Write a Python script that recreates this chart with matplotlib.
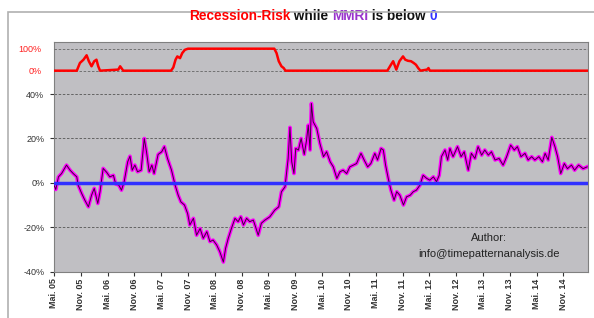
import numpy as np
import matplotlib.pyplot as plt
from matplotlib.patches import Rectangle

plt.rcParams['font.family'] = ['Liberation Sans', 'DejaVu Sans']

# MMRI: months since May 2005, value in %
mmri_m = [0.0, 0.4, 1.0, 1.7, 2.8, 3.6, 4.3, 5.1, 5.4, 6.2, 6.9, 7.7, 8.4, 9.0, 9.8, 10.3,
          11.0, 11.8, 12.5, 13.3, 13.8, 14.5, 15.1, 15.7, 16.5, 17.0, 17.5, 18.1, 18.7, 19.5,
          20.2, 20.7, 21.3, 21.9, 22.4, 23.3, 24.1, 24.7, 25.4, 26.3, 27.1, 27.8, 28.4, 29.2,
          29.9, 30.4, 31.2, 31.9, 32.7, 33.4, 34.2, 34.9, 35.6, 36.4, 37.1, 37.9, 38.4, 39.0,
          39.7, 40.5, 41.2, 41.8, 42.4, 43.1, 43.8, 44.6, 45.1, 45.7, 46.4, 47.2, 48.3, 49.4,
          50.3, 50.9, 51.7, 52.4, 52.8, 53.2, 53.7, 54.1, 54.7, 55.3, 56.0, 56.5, 56.9, 57.3,
          57.6, 58.0, 58.8, 59.5, 60.3, 61.0, 61.8, 62.5, 63.3, 64.0, 64.7, 65.5, 66.2, 67.0,
          67.7, 68.7, 69.4, 70.2, 70.9, 71.8, 72.4, 73.2, 73.7, 74.2, 74.8, 75.4, 76.1, 76.7,
          77.4, 78.2, 78.9, 79.7, 80.4, 81.1, 81.9, 82.6, 83.4, 84.1, 84.9, 85.6, 86.2, 86.7,
          87.5, 88.1, 88.6, 89.3, 90.3, 91.1, 91.8, 92.7, 93.4, 94.2, 94.9, 95.7, 96.4, 97.2,
          97.9, 98.7, 99.6, 100.5, 101.3, 102.2, 103.0, 103.7, 104.5, 105.4, 106.1, 106.9,
          107.6, 108.5, 109.3, 109.9, 110.6, 111.4, 112.1, 112.7, 113.4, 114.2, 114.9, 115.8,
          116.5, 117.4, 118.4, 119.3]
mmri_v = [-1.0, -3.0, 2.7, 4.2, 8.0, 5.7, 4.2, 2.7, -1.0, -4.8, -7.8, -10.8, -5.6, -2.5, -9.3, -4.0,
          6.5, 4.7, 2.7, 3.4, -0.5, -1.0, -3.3, 0.5, 9.5, 12.0, 5.7, 8.0, 5.0, 5.7,
          20.0, 14.0, 5.0, 8.0, 4.2, 12.8, 14.0, 16.3, 11.0, 5.7, -1.0, -5.6, -8.6, -10.0,
          -13.8, -19.0, -16.0, -23.6, -20.6, -25.0, -22.0, -26.5, -25.8, -28.0, -31.0, -35.7, -29.5, -25.0,
          -20.6, -16.0, -17.5, -15.3, -19.0, -16.0, -17.5, -16.8, -19.8, -23.6, -18.2, -16.8, -15.3, -12.3,
          -10.8, -4.0, -1.8, 11.0, 25.0, 9.5, 4.2, 15.5, 14.8, 20.0, 12.8, 19.0, 26.0, 14.8,
          35.8, 27.5, 24.5, 17.8, 11.8, 14.0, 9.5, 7.2, 2.0, 5.0, 5.7, 4.2, 7.2, 8.0,
          8.7, 13.3, 10.3, 7.2, 8.7, 13.3, 10.3, 15.5, 14.8, 8.0, 2.0, -3.3, -7.8, -4.0,
          -5.6, -10.0, -6.3, -5.6, -4.0, -3.3, -1.0, 3.4, 2.0, 1.2, 2.7, 0.5, 3.4, 11.8,
          14.8, 10.3, 15.5, 11.8, 16.3, 11.8, 14.0, 5.7, 13.3, 11.0, 16.3, 12.5, 14.8, 12.5,
          14.0, 10.3, 11.0, 8.0, 11.8, 17.0, 14.8, 16.3, 11.8, 13.3, 10.3, 11.8,
          10.3, 11.8, 9.5, 13.3, 10.3, 20.5, 16.3, 11.8, 4.2, 8.7, 6.4, 8.0,
          5.7, 8.0, 6.4, 7.2]

# Recession risk in %
risk_m = [0.0, 5.1, 5.8, 6.6, 7.3, 7.8, 8.4, 9.0, 9.5, 9.9, 10.3, 14.4, 14.8, 15.5,
          26.2, 26.7, 27.2, 27.6, 28.2, 28.7, 29.3, 30.0, 49.3, 49.8, 50.3, 50.9, 51.4, 51.8,
          74.6, 75.4, 75.9, 76.6, 77.3, 78.1, 78.6, 79.2, 79.9, 80.5, 81.0, 81.5, 82.0,
          83.5, 83.8, 84.1, 119.5]
risk_v = [0, 0, 35, 50, 70, 43, 20, 43, 50, 20, 0, 5, 20, 0,
          0, 15, 50, 65, 57, 80, 95, 100, 100, 80, 43, 20, 12, 0,
          0, 27, 43, 5, 43, 65, 50, 45, 43, 35, 27, 12, 0,
          5, 12, 0, 0]

tick_m = list(range(0, 115, 6))
tick_labels = [('Mai. ' if i % 2 == 0 else 'Nov. ') + '%02d' % (5 + i // 2) for i in range(len(tick_m))]

fig = plt.figure(figsize=(5.94, 3.18), dpi=100)
# heller Rahmen um das ganze Diagramm
fig.patches.append(Rectangle((0.0135, -0.1), 1.1, 1.062, transform=fig.transFigure,
                             fill=False, edgecolor='#b0b0b0', lw=1.2))

ax = fig.add_axes([0.0909, 0.146, 0.899, 0.722])
ax.set_facecolor('#c0bfc3')
ax.set_xlim(0, 119.5)
ax.set_ylim(-40, 63.5)
ax.set_yticks([-40, -20, 0, 20, 40])
ax.set_yticklabels(['-40%', '-20%', '0%', '20%', '40%'])
for g in [-20, 20, 40]:
    ax.axhline(g, color='#555555', lw=0.6, ls=(0, (3, 2)), zorder=1)
ax.plot(mmri_m, mmri_v, color='#ff00ff', lw=2.6, zorder=3)
ax.plot(mmri_m, mmri_v, color='#3a0a36', lw=0.7, zorder=4)
ax.axhline(0, color='#3030ff', lw=2.5, zorder=5)

ax.set_xticks(tick_m)
ax.set_xticklabels(tick_labels, rotation=90, fontsize=6.5, fontweight='bold', color='#333333')
ax.tick_params(axis='y', labelsize=6.5, colors='#333333', length=3, pad=4)
ax.tick_params(axis='x', length=3, pad=2, color='#333333')
for s in ax.spines.values():
    s.set_color('#808080')

# Rezessionsrisiko oben, eigene Skala
ax2 = ax.twinx()
ax2.set_ylim(-913, 130.5)
ax2.set_yticks([0, 100])
ax2.set_yticklabels(['0%', '100%'])
ax2.yaxis.tick_left()
ax2.tick_params(axis='y', labelsize=6.5, labelcolor='#ff2020', length=0, pad=9)
for g in [0, 100]:
    ax2.axhline(g, color='#666666', lw=0.6, ls=(0, (3, 2)), zorder=1)
ax2.plot(risk_m, risk_v, color='#ff0000', lw=1.8, zorder=3)
for s in ax2.spines.values():
    s.set_visible(False)

ax.text(0.815, 0.146, 'Author:', transform=ax.transAxes, ha='center', va='center',
        fontsize=8, color='#222222')
ax.text(0.815, 0.077, 'info@timepatternanalysis.de', transform=ax.transAxes, ha='center',
        va='center', fontsize=8, color='#222222')

# Titel in mehreren Farben
parts = [('Recession-Risk', '#ff0000'), (' while ', '#111111'), ('MMRI', '#9933cc'),
         (' is below ', '#111111'), ('0', '#3333ff')]
prev = fig.text(189 / 594, 1 - 23 / 318, parts[0][0], color=parts[0][1], fontsize=9.8,
                fontweight='bold', ha='left', va='bottom')
for txt, col in parts[1:]:
    prev = ax.annotate(txt, xy=(1, 0), xycoords=prev, color=col, fontsize=9.8,
                       fontweight='bold', ha='left', va='bottom', annotation_clip=False)

fig.savefig('out.png', dpi=100)
